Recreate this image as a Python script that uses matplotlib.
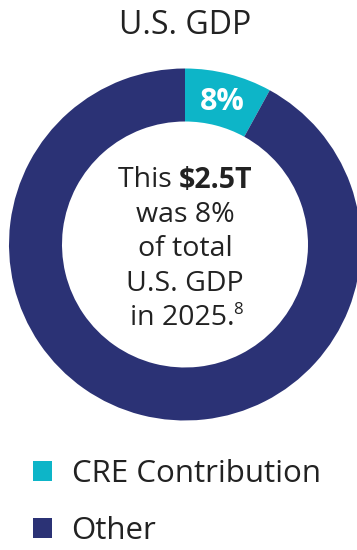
import matplotlib
matplotlib.use("Agg")
import matplotlib.pyplot as plt

plt.rcParams["font.family"] = ["Open Sans", "DejaVu Sans"]

# ----- data -----
labels = ["CRE Contribution", "Other"]
shares = [8, 92]
colors = ["#0db5c8", "#2b3275"]
title = "U.S. GDP"
total_t = 2.5
year = 2025
note_ref = "8"

W, H = 357, 550
fig = plt.figure(figsize=(W / 100, H / 100), dpi=100)
ax = fig.add_axes([0, 0, 1, 1])

cx, cy = 185, H - 244.5
r_out, ring = 176, 53

wedges, _ = ax.pie(
    shares,
    colors=colors,
    startangle=90,
    counterclock=False,
    center=(cx, cy),
    radius=r_out,
    wedgeprops=dict(width=ring, linewidth=0),
    frame=True,
)
ax.set_xlim(0, W)
ax.set_ylim(0, H)
ax.set_aspect("equal")
ax.axis("off")

# percentage label inside the small wedge
ax.text(222, H - 102, f"{shares[0]}%", color="white", fontsize=22,
        fontweight="bold", ha="center", va="center")

ax.text(cx, H - 26, title, fontsize=23, color="#222222",
        ha="center", va="center")

# ----- centre note -----
fig.canvas.draw()
rend = fig.canvas.get_renderer()
txt_kw = dict(fontsize=20.5, color="#222222", va="center")


def width_of(t):
    bb = t.get_window_extent(renderer=rend)
    return bb.width


# first line: regular + bold pieces
y1 = H - 180
a = ax.text(0, y1, "This ", ha="left", **txt_kw)
b = ax.text(0, y1, f"\\${total_t}T", ha="left", fontweight="bold", **txt_kw)
wa, wb = width_of(a), width_of(b)
x0 = cx - (wa + wb) / 2
a.set_x(x0)
b.set_x(x0 + wa)

lines = [f"was {shares[0]}%", "of total", "U.S. GDP"]
for i, s in enumerate(lines):
    ax.text(cx, H - 215 - i * 34.5, s, ha="center", **txt_kw)

# last line with footnote marker
y5 = H - 318
c = ax.text(0, y5, f"in {year}.", ha="left", **txt_kw)
d = ax.text(0, y5 + 8, note_ref, ha="left", fontsize=12, color="#222222",
            va="center")
wc, wd = width_of(c), width_of(d)
x0 = cx - (wc + wd) / 2 + 2
c.set_x(x0)
d.set_x(x0 + wc - 1)

# ----- legend -----
ax.legend(wedges, labels, loc="upper left", bbox_to_anchor=(0.092, 0.166),
          frameon=False, fontsize=22.5, handlelength=0.62, handleheight=0.62,
          handletextpad=0.62, labelspacing=0.88, borderpad=0,
          borderaxespad=0, labelcolor="#222222")

fig.savefig("out.png", dpi=100)
